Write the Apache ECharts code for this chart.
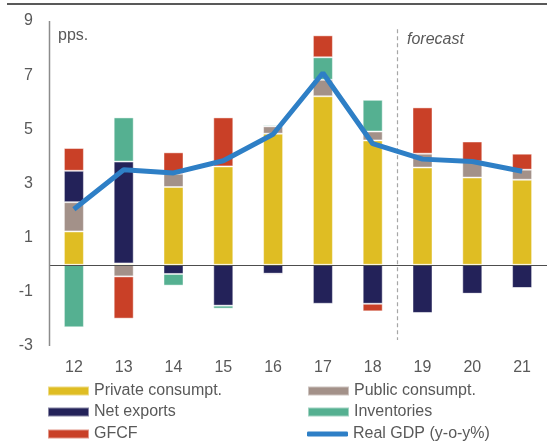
<!DOCTYPE html>
<html>
<head>
<meta charset="utf-8">
<style>
	html, body { margin: 0; padding: 0; background: #fff; }
	#chart { width: 547px; height: 443px; }
</style>
<script src="https://cdn.jsdelivr.net/npm/echarts@6/dist/echarts.min.js"></script>
</head>
<body>
<div id="chart"></div>
<script>
// data
var years = ['12', '13', '14', '15', '16', '17', '18', '19', '20', '21'];
var privateC = [1.23, 0.05, 2.87, 3.63, 4.84, 6.22, 4.59, 3.59, 3.22, 3.14];
var publicC = [1.08, -0.43, 0.49, 0, 0.27, 0.61, 0.33, 0.51, 0.59, 0.37];
var netExports = [1.16, 3.76, -0.34, -1.51, -0.33, -1.44, -1.44, -1.78, -1.07, -0.86];
var inventories = [-2.31, 1.63, -0.43, -0.11, 0.05, 0.83, 1.17, -0.03, 0, 0];
var gfcf = [0.84, -1.56, 0.79, 1.81, -0.04, 0.81, -0.28, 1.71, 0.74, 0.59];
var gdp = [2.05, 3.51, 3.39, 3.84, 4.82, 7.08, 4.47, 3.90, 3.81, 3.45];
var yTicks = { min: -3, max: 9, interval: 2 };
var forecastAt = 7; // band edge between 18 and 19 on the helper axis

(function () {
	var myChart = echarts.init(document.getElementById('chart'));
	var textColor = '#595959';
	var font = 'Liberation Sans, Arial, sans-serif';

	function barSeries(name, data, color) {
		return {
			name: name,
			type: 'bar',
			stack: 'total',
			barWidth: 20,
			data: data,
			itemStyle: {
				color: color,
				borderColor: 'rgba(255,255,255,0.45)',
				borderWidth: 1
			}
		};
	}

	// one legend per entry, laid out as two columns of three rows
	function legendItem(name, left, top, icon) {
		return {
			left: left,
			top: top,
			itemWidth: 41,
			itemHeight: icon ? 5 : 9,
			itemGap: 5,
			icon: icon || 'rect',
			textStyle: { color: textColor, fontSize: 16, fontFamily: font },
			data: [name]
		};
	}

	var staticGraphics = [
		{ type: 'line', shape: { x1: 7, y1: 4, x2: 547, y2: 4 }, style: { stroke: '#222', lineWidth: 1.5 } },
		{ type: 'text', left: 58, top: 28, style: { text: 'pps.', fill: textColor, font: '16px ' + font } },
		{ type: 'text', left: 407, top: 32, style: { text: 'forecast', fill: textColor, font: 'italic 16px ' + font } }
	];

	var option = {
		animation: false,
		textStyle: { fontFamily: font },
		grid: { left: 49, top: 21, width: 504, height: 325 },
		legend: [
			legendItem('Private consumpt.', 42, 378),
			legendItem('Net exports', 42, 399),
			legendItem('GFCF', 42, 421),
			legendItem('Public consumpt.', 302, 378),
			legendItem('Inventories', 302, 399),
			legendItem('Real GDP (y-o-y%)', 302, 421, 'roundRect')
		],
		xAxis: [
			{
				type: 'category',
				data: years,
				axisLine: { show: false },
				axisTick: { show: false },
				axisLabel: { color: textColor, fontSize: 16, margin: 14 }
			},
			{
				// hidden helper axis (0 = left edge of the plot)
				type: 'value',
				min: 0,
				max: years.length,
				show: false
			}
		],
		yAxis: {
			type: 'value',
			min: yTicks.min,
			max: yTicks.max,
			interval: yTicks.interval,
			axisLine: { show: false },
			axisTick: { show: false },
			splitLine: { show: false },
			axisLabel: { color: textColor, fontSize: 16, margin: 16 }
		},
		series: [
			barSeries('Private consumpt.', privateC, '#dfbd23'),
			barSeries('Public consumpt.', publicC, '#a39189'),
			barSeries('Net exports', netExports, '#232259'),
			barSeries('Inventories', inventories, '#55b091'),
			barSeries('GFCF', gfcf, '#c94027'),
			{
				name: 'Real GDP (y-o-y%)',
				type: 'line',
				data: gdp,
				symbol: 'none',
				lineStyle: { color: '#2e7fc6', width: 5 },
				itemStyle: { color: '#2e7fc6' },
				z: 5,
				// zero line
				markLine: {
					silent: true,
					symbol: 'none',
					label: { show: false },
					lineStyle: { color: '#4d4d4d', width: 1, type: 'solid' },
					data: [{ yAxis: 0 }]
				}
			},
			{
				name: 'divider',
				type: 'line',
				xAxisIndex: 1,
				data: [],
				markLine: {
					silent: true,
					symbol: 'none',
					label: { show: false },
					lineStyle: { color: '#a6a6a6', width: 1.2, type: [4, 3] },
					data: [[{ coord: [forecastAt, 8.7] }, { coord: [forecastAt, -2.78] }]]
				}
			}
		],
		graphic: staticGraphics
	};

	myChart.setOption(option);

	// y axis line: placed from the chart's own scales after the first render
	function drawAxisLine() {
		var x = myChart.convertToPixel({ xAxisIndex: 1 }, 0);
		var yTop = myChart.convertToPixel({ yAxisIndex: 0 }, yTicks.max);
		var yBottom = myChart.convertToPixel({ yAxisIndex: 0 }, yTicks.min);
		myChart.setOption({
			graphic: staticGraphics.concat([{
				type: 'line',
				z: 100,
				shape: { x1: x + 0.5, y1: yTop, x2: x + 0.5, y2: yBottom },
				style: { stroke: '#8c8c8c', lineWidth: 1.5 }
			}])
		});
	}
	drawAxisLine();

	window.addEventListener('resize', function () {
		myChart.resize();
		drawAxisLine();
	});
})();
</script>
</body>
</html>
